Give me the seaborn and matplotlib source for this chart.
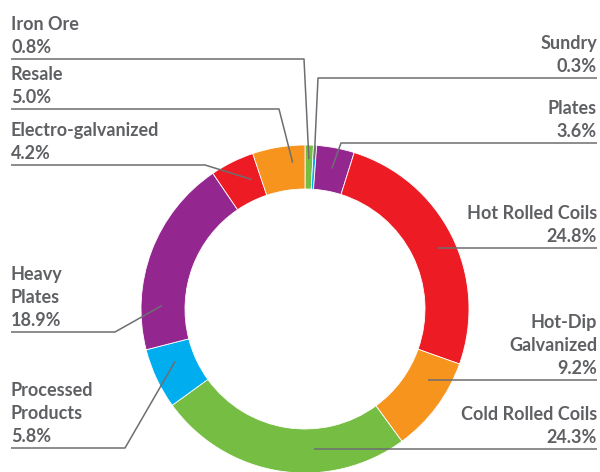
import numpy as np
import matplotlib
matplotlib.use("Agg")
import matplotlib.pyplot as plt
import seaborn as sns

# Sales mix by product (%), listed clockwise from twelve o'clock
categories = ["Iron Ore", "Sundry", "Plates", "Hot Rolled Coils", "Hot-Dip Galvanized",
              "Cold Rolled Coils", "Processed Products", "Heavy Plates",
              "Electro-galvanized", "Resale"]
shares = [0.8, 0.3, 3.6, 24.8, 9.2, 24.3, 5.8, 18.9, 4.2, 5.0]
label_lines = [["Iron Ore"], ["Sundry"], ["Plates"], ["Hot Rolled Coils"],
               ["Hot-Dip", "Galvanized"], ["Cold Rolled Coils"],
               ["Processed", "Products"], ["Heavy", "Plates"],
               ["Electro-galvanized"], ["Resale"]]
palette = ["#76BD43", "#00AEEF", "#93278F", "#ED1C24", "#F7941D"]

# Canvas in pixel units (y measured downward for layout values)
W, H = 600, 472
CX, CY = 305, 309
R_OUT, RING = 164, 44
TEXT_GRAY = "#5F6063"
LINE_GRAY = "#6D6E71"

# Label layout: side, underline y, elbow x, anchor position inside wedge, anchor radius
layout = {
    "Iron Ore":           ("left",  59,   304,  0.50, 150),
    "Sundry":             ("right", 78,   318,  0.50, 150),
    "Plates":             ("right", 143,  341,  0.50, 143),
    "Hot Rolled Coils":   ("right", None, None, 0.52, 146),
    "Hot-Dip Galvanized": ("right", None, None, 0.30, 142),
    "Cold Rolled Coils":  ("right", None, None, 0.36, 140),
    "Processed Products": ("left",  448,  125,  0.65, 140),
    "Heavy Plates":       ("left",  332,  115,  0.225, 143),
    "Electro-galvanized": ("left",  165,  205,  0.76, 140),
    "Resale":             ("left",  109,  279,  0.74, 147),
}

sns.set_theme(style="white")
plt.rcParams["font.family"] = ["Lato", "DejaVu Sans"]

fig = plt.figure(figsize=(W / 100, H / 100), dpi=100)
ax = fig.add_axes([0, 0, 1, 1])

colors = [palette[i % len(palette)] for i in range(len(shares))]
wedges, _ = ax.pie(shares, colors=colors, startangle=90, counterclock=False,
                   radius=R_OUT, center=(CX, H - CY),
                   wedgeprops=dict(width=RING, edgecolor="white", linewidth=0.6))

ax.set_xlim(0, W)
ax.set_ylim(0, H)
ax.set_aspect("auto")
ax.axis("off")

LEFT_X, RIGHT_X = 11, 597
LINE_STEP = 23
GAP = 6

for cat, val, lines, wedge in zip(categories, shares, label_lines, wedges):
    side, under_y, elbow_x, frac, r_anchor = layout[cat]
    # clockwise start of the wedge is theta2
    ang = np.deg2rad(wedge.theta2 - frac * (wedge.theta2 - wedge.theta1))
    ax_x = CX + r_anchor * np.cos(ang)
    ax_y = (H - CY) + r_anchor * np.sin(ang)
    if under_y is None:
        uy = ax_y
    else:
        uy = H - under_y
    edge_x = LEFT_X if side == "left" else RIGHT_X
    if elbow_x is None:
        xs, ys = [edge_x, ax_x], [uy, ax_y]
    else:
        xs, ys = [edge_x, elbow_x, ax_x], [uy, uy, ax_y]
    ax.plot(xs, ys, color=LINE_GRAY, lw=1.1, solid_capstyle="butt")

    text_lines = lines + [f"{val:.1f}%"]
    ha = "left" if side == "left" else "right"
    base = uy + GAP
    for k, t in enumerate(reversed(text_lines)):
        ax.text(edge_x, base + k * LINE_STEP, t, ha=ha, va="baseline",
                fontsize=13.0, fontweight="bold", color=TEXT_GRAY)

fig.savefig("out.png", dpi=100)
